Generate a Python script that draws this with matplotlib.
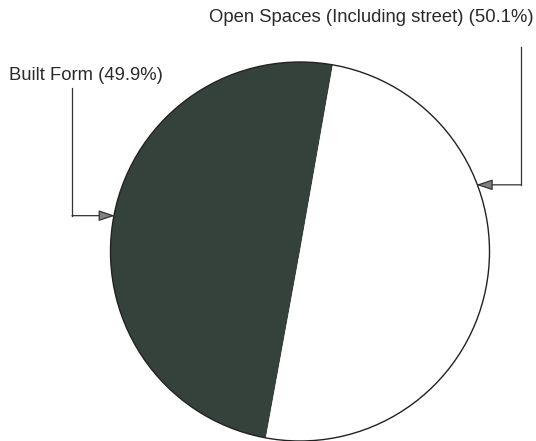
import numpy as np
import matplotlib
matplotlib.use("Agg")
import matplotlib.pyplot as plt

labels = ["Built Form", "Open Spaces (Including street)"]
values = [49.9, 50.1]
colors = ["#34423b", "#ffffff"]

W, H = 536, 441
fig = plt.figure(figsize=(W / 100, H / 100), dpi=100)
ax = fig.add_axes([0, 0, 1, 1])

cx, cy, r = 300, 189.5, 189.5
start = 80.0
wedges, _ = ax.pie(values, colors=colors, startangle=start, counterclock=True,
                   center=(cx, cy), radius=r, frame=True,
                   wedgeprops=dict(edgecolor="none"))
ax.set_xlim(0, W)
ax.set_ylim(0, H)
ax.set_aspect("equal")
ax.axis("off")
circle = plt.Circle((cx, cy), r, fill=False, edgecolor="#222222", lw=1.0)
ax.add_patch(circle)

font = dict(family=["Liberation Sans", "DejaVu Sans"], fontsize=13.3, color="#2a2a2a")

def pt(angle_deg):
    a = np.deg2rad(angle_deg)
    return cx + r * np.cos(a), cy + r * np.sin(a)

arrow = dict(arrowstyle="-|>,head_length=0.9,head_width=0.3", color="#333333", lw=0.9,
             mutation_scale=11, shrinkA=0, shrinkB=0, fc="#808080")

# Built Form label
bx, by = pt(169.1)
ax.text(9, H - 75, f"{labels[0]} ({values[0]:.1f}%)", ha="left", va="center", **font)
ax.plot([72, 72], [H - 88, by], color="#333333", lw=0.9)
ax.annotate("", xy=(bx + 1, by), xytext=(72, by), arrowprops=arrow)

# Open Spaces label
ox, oy = pt(20.6)
ax.text(534, H - 18, f"{labels[1]} ({values[1]:.1f}%)", ha="right", va="center", **font)
ax.plot([521, 521], [H - 47, oy], color="#333333", lw=0.9)
ax.annotate("", xy=(ox - 1, oy), xytext=(521, oy), arrowprops=arrow)

fig.savefig("out.png", dpi=100)
